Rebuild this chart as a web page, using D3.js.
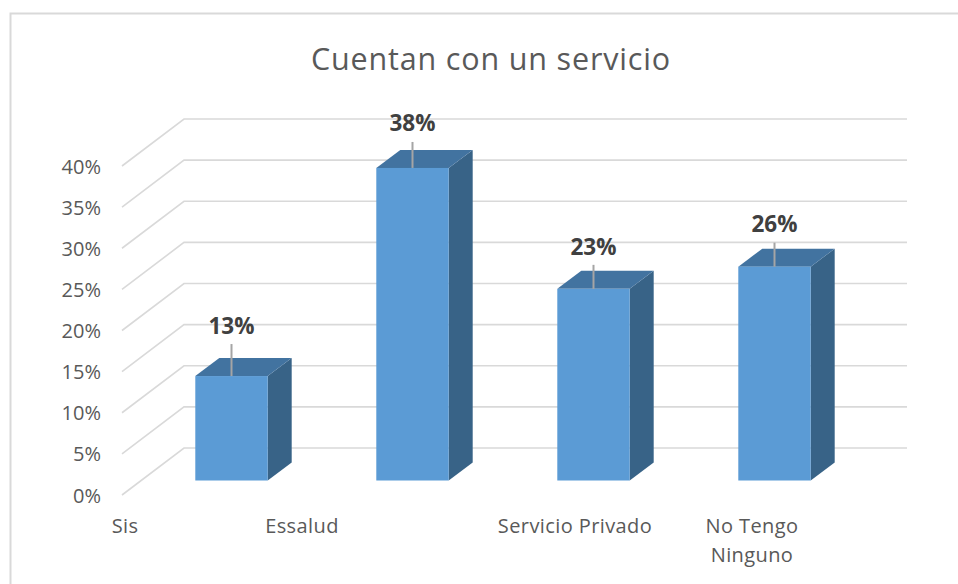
<!DOCTYPE html>
<html>
<head>
<meta charset="utf-8">
<script src="https://cdn.jsdelivr.net/npm/d3@7"></script>
<style>
html,body{margin:0;padding:0;background:#fff;overflow:hidden}
svg{display:block}
text{font-family:"Open Sans",sans-serif}
</style>
</head>
<body>
<svg id="chart" width="958" height="584"></svg>
<script>
const chartTitle = "Cuentan con un servicio";
const values = [12.7, 38, 23.3, 26];
const axisLabels = [["Sis"], ["Essalud"], ["Servicio Privado"], ["No Tengo", "Ninguno"]];
const yTicks = [0, 5, 10, 15, 20, 25, 30, 35, 40];

const svg = d3.select("#chart");
const barKeys = d3.range(values.length);

// Layout of the pseudo-3D box
const depth = {dx: 62, dy: 47};
const barDepth = {dx: 24, dy: 18};
const y = d3.scaleLinear().domain([0, 40]).range([495, 166]);
const x = d3.scaleBand().domain(barKeys).range([141, 865]).paddingInner(0.6).paddingOuter(0.3);
const floorY = 480.5;
const barScale = y(0) - y(1);
const gridRight = 907, frontLeft = 122;
const labelX = [125, 302, 575, 752];
const labelLift = [42, 36.5, 34, 35];
const leaderLen = [32, 26, 24, 24];

// Chart frame
svg.append("path")
  .attr("d", `M10.5,584V13.5H958`)
  .attr("fill", "none").attr("stroke", "#d9d9d9").attr("stroke-width", 2);

// Title
svg.append("text").attr("x", 491).attr("y", 70)
  .attr("text-anchor", "middle").attr("font-size", 30.5).attr("letter-spacing", 0.83).attr("fill", "#595959")
  .text(chartTitle);

// Gridlines: wall + floor segment
const line = d3.line();
svg.append("g").selectAll("path").data(yTicks).join("path")
  .attr("d", d => line([
    [frontLeft, y(d)],
    [frontLeft + depth.dx, y(d) - depth.dy],
    [gridRight, y(d) - depth.dy]
  ]))
  .attr("fill", "none").attr("stroke", "#d9d9d9").attr("stroke-width", 1.6);

// Y tick labels
svg.append("g").selectAll("text").data(yTicks).join("text")
  .attr("x", 101).attr("y", d => y(d) + 7.5)
  .attr("text-anchor", "end").attr("font-size", 20).attr("fill", "#595959")
  .text(d => d + "%");

// Bars
const bars = svg.append("g").selectAll("g").data(values).join("g");
const barTop = v => floorY - v * barScale;
bars.append("path") // side
  .attr("d", (v, i) => {
    const r = x(i) + x.bandwidth();
    return line([[r, floorY], [r, barTop(v)], [r + barDepth.dx, barTop(v) - barDepth.dy], [r + barDepth.dx, floorY - barDepth.dy]]) + "Z";
  }).attr("fill", "#386387");
bars.append("path") // top
  .attr("d", (v, i) => {
    const l = x(i), r = l + x.bandwidth(), t = barTop(v);
    return line([[l, t], [r, t], [r + barDepth.dx, t - barDepth.dy], [l + barDepth.dx, t - barDepth.dy]]) + "Z";
  }).attr("fill", "#4273a0");
bars.append("rect") // front
  .attr("x", (v, i) => x(i)).attr("y", v => barTop(v))
  .attr("width", x.bandwidth()).attr("height", v => floorY - barTop(v))
  .attr("fill", "#5b9bd5");

// Leader lines
bars.append("line")
  .attr("x1", (v, i) => x(i) + x.bandwidth() / 2)
  .attr("x2", (v, i) => x(i) + x.bandwidth() / 2)
  .attr("y1", v => barTop(v))
  .attr("y2", (v, i) => barTop(v) - leaderLen[i])
  .attr("stroke", "#a5a5a5").attr("stroke-width", 2);

// Value labels
const fmt = v => d3.format(".0f")(v) + "%";
bars.append("text")
  .attr("x", (v, i) => x(i) + x.bandwidth() / 2)
  .attr("y", (v, i) => barTop(v) - labelLift[i])
  .attr("text-anchor", "middle").attr("font-size", 22.5).attr("font-weight", 700).attr("fill", "#404040")
  .text(fmt);

// Category labels
const cat = svg.append("g").selectAll("text").data(axisLabels).join("text")
  .attr("text-anchor", "middle").attr("font-size", 20).attr("letter-spacing", 0.4).attr("fill", "#595959");
cat.each(function (lines, i) {
  d3.select(this).selectAll("tspan").data(lines).join("tspan")
    .attr("x", labelX[i]).attr("y", (l, k) => 533 + k * 29).text(l => l);
});
</script>
</body>
</html>
